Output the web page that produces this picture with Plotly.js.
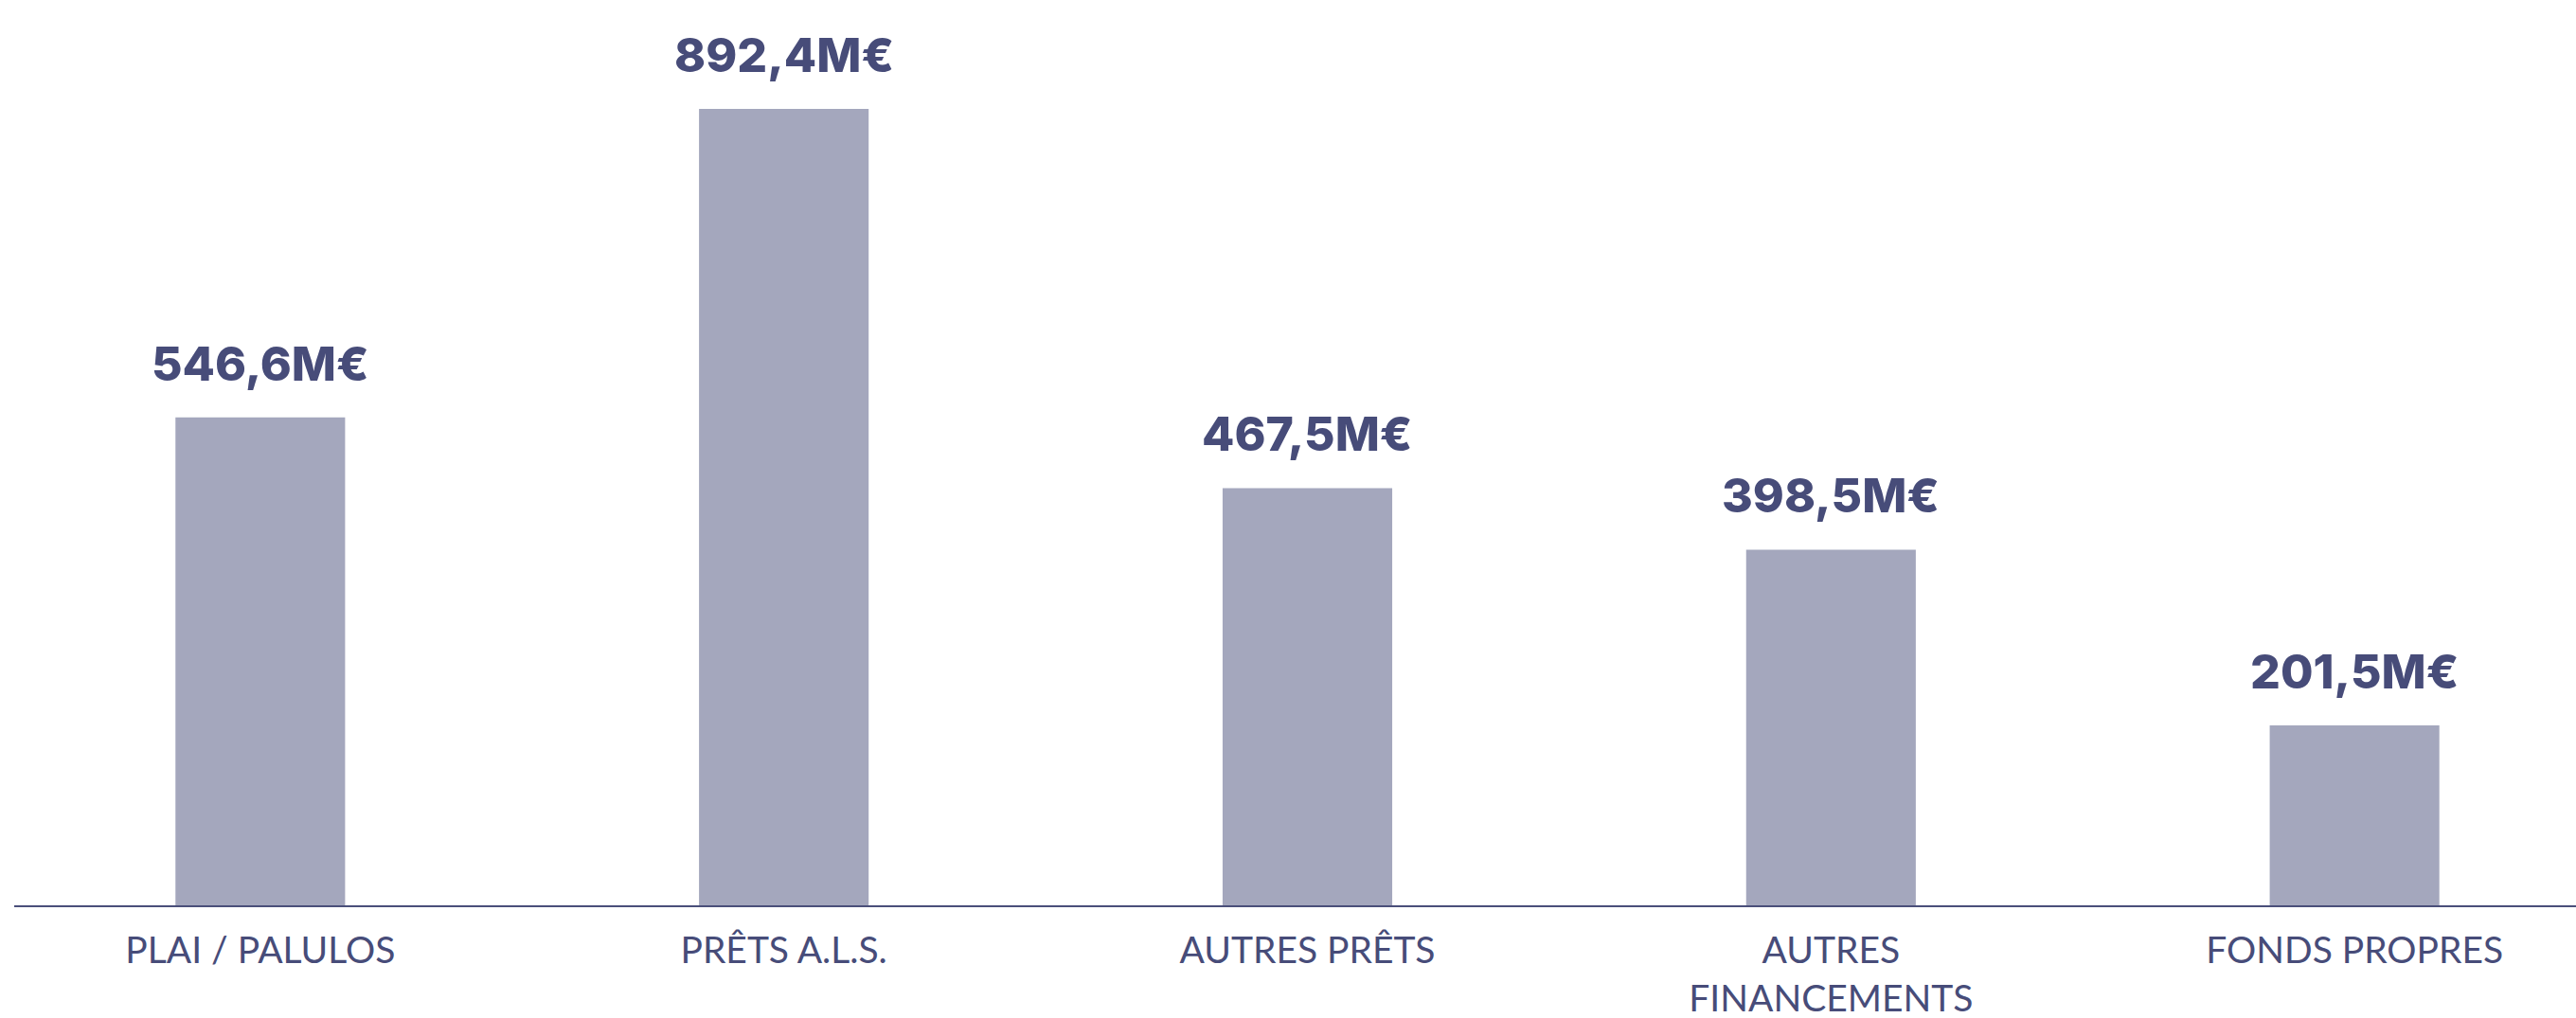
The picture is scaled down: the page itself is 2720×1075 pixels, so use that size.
<!DOCTYPE html>
<html>
<head>
<meta charset="utf-8">
<script src="https://cdn.plot.ly/plotly-3.0.1.min.js"></script>
<style>
  html, body { margin: 0; padding: 0; background: #ffffff; }
  #chart { width: 2720px; height: 1075px; }
</style>
</head>
<body>
<div id="chart"></div>
<script>
const categories = ["PLAI / PALULOS", "PRÊTS A.L.S.", "AUTRES PRÊTS", "AUTRES FINANCEMENTS", "FONDS PROPRES"];
const tickLabels = ["PLAI / PALULOS", "PRÊTS A.L.S.", "AUTRES PRÊTS", "AUTRES<br>FINANCEMENTS", "FONDS PROPRES"];
const values = [546.6, 892.4, 467.5, 398.5, 201.5];
const valueLabels = ["546,6M€", "892,4M€", "467,5M€", "398,5M€", "201,5M€"];

const barColor = "#a4a7bd";
const textColor = "#474c79";

const trace = {
  type: "bar",
  x: categories,
  y: values,
  marker: { color: barColor },
  hoverinfo: "skip"
};

const annotations = categories.map((c, i) => ({
  x: c,
  y: values[i],
  xref: "x",
  yref: "y",
  text: valueLabels[i],
  showarrow: false,
  yanchor: "bottom",
  xanchor: "center",
  yshift: 25,
  font: { family: "Inter, 'Open Sans', sans-serif", size: 50, weight: 800, color: textColor }
}));

const layout = {
  width: 2720,
  height: 1075,
  margin: { l: 15, r: 0, t: 0, b: 119 },
  paper_bgcolor: "#ffffff",
  plot_bgcolor: "#ffffff",
  showlegend: false,
  bargap: 0.676,
  xaxis: {
    type: "category",
    range: [-0.470, 4.423],
    tickmode: "array",
    tickvals: categories,
    ticktext: tickLabels,
    showline: true,
    linecolor: "#4a4f7a",
    linewidth: 2,
    ticks: "",
    ticklabelstandoff: 12,
    showgrid: false,
    zeroline: false,
    tickfont: { family: "Lato, 'Open Sans', sans-serif", size: 39, weight: 400, color: textColor }
  },
  yaxis: {
    range: [0, 1014.4],
    visible: false,
    showgrid: false,
    zeroline: false
  },
  annotations: annotations
};

Plotly.newPlot("chart", [trace], layout, { displayModeBar: false, staticPlot: true });
</script>
</body>
</html>
